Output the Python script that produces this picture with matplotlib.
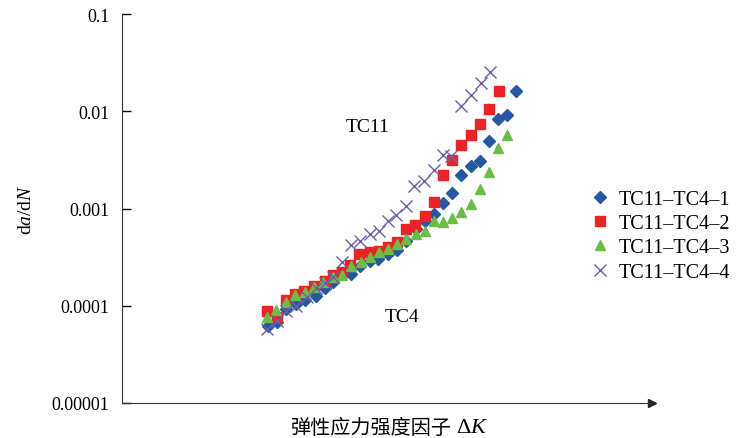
import matplotlib
matplotlib.use("Agg")
import matplotlib.pyplot as plt

plt.rcParams['font.family'] = ['Liberation Serif', 'Noto Sans CJK SC']
plt.rcParams['mathtext.fontset'] = 'custom'
plt.rcParams['mathtext.rm'] = 'Liberation Serif'
plt.rcParams['mathtext.it'] = 'Liberation Serif:italic'

# data (x axis has no scale, arbitrary units)
x1 = [27.6, 29.3, 31.0, 32.9, 34.6, 36.5, 38.2, 39.8, 43.2, 44.9, 46.8, 48.3, 50.2,
      51.9, 53.6, 55.5, 57.1, 58.8, 60.5, 62.2, 63.9, 65.8, 67.5, 69.2, 70.9, 72.7, 74.4]
y1 = [6.2e-5, 6.8e-5, 9.3e-5, 1.05e-4, 1.15e-4, 1.27e-4, 1.50e-4, 1.73e-4, 2.14e-4, 2.58e-4,
      2.91e-4, 3.05e-4, 3.44e-4, 3.78e-4, 4.68e-4, 6.22e-4, 7.35e-4, 8.88e-4, 1.15e-3,
      1.46e-3, 2.19e-3, 2.77e-3, 3.05e-3, 4.91e-3, 8.28e-3, 9.10e-3, 1.64e-2]

x2 = [27.4, 29.3, 31.0, 32.7, 34.4, 36.3, 38.2, 39.8, 41.4, 43.0, 44.7, 46.8, 48.5,
      50.2, 51.9, 53.6, 55.3, 57.1, 58.8, 60.5, 62.2, 63.9, 65.8, 67.5, 69.2, 71.1]
y2 = [8.7e-5, 7.7e-5, 1.15e-4, 1.33e-4, 1.43e-4, 1.61e-4, 1.81e-4, 2.09e-4, 2.24e-4,
      2.65e-4, 3.36e-4, 3.60e-4, 3.69e-4, 4.06e-4, 4.57e-4, 6.08e-4, 6.84e-4, 8.47e-4,
      1.18e-3, 2.24e-3, 3.13e-3, 4.46e-3, 5.66e-3, 7.35e-3, 1.05e-2, 1.61e-2]

x3 = [27.4, 29.1, 31.0, 32.7, 34.6, 36.3, 38.0, 39.8, 41.5, 43.2, 45.1, 46.8, 48.5, 50.2,
      51.9, 53.6, 55.5, 57.1, 58.8, 60.5, 62.2, 63.9, 65.8, 67.5, 69.2, 70.9, 72.7]
y3 = [7.7e-5, 9.1e-5, 1.10e-4, 1.30e-4, 1.39e-4, 1.57e-4, 1.77e-4, 1.95e-4, 2.09e-4,
      2.58e-4, 2.84e-4, 3.20e-4, 3.60e-4, 3.87e-4, 4.26e-4, 4.91e-4, 5.52e-4, 5.80e-4,
      7.35e-4, 7.18e-4, 8.07e-4, 9.31e-4, 1.10e-3, 1.57e-3, 2.35e-3, 4.16e-3, 5.66e-3]

x4 = [27.4, 29.3, 31.0, 32.9, 34.8, 36.5, 38.2, 39.8, 41.4, 43.2, 44.9, 46.8, 48.5,
      50.2, 51.7, 53.6, 55.1, 57.0, 58.8, 60.5, 62.0, 63.9, 65.8, 67.7, 69.4]
y4 = [5.8e-5, 7.0e-5, 8.7e-5, 1.0e-4, 1.24e-4, 1.50e-4, 1.69e-4, 1.99e-4, 2.84e-4,
      4.16e-4, 4.68e-4, 5.52e-4, 5.93e-4, 7.35e-4, 8.67e-4, 1.07e-3, 1.69e-3, 1.90e-3,
      2.47e-3, 3.52e-3, 3.45e-3, 1.15e-2, 1.46e-2, 1.95e-2, 2.52e-2]

labels = ['TC11\u2013TC4\u20131', 'TC11\u2013TC4\u20132', 'TC11\u2013TC4\u20133', 'TC11\u2013TC4\u20134']
yticks = [1e-5, 1e-4, 1e-3, 1e-2, 1e-1]
yticklabels = ['0.00001', '0.0001', '0.001', '0.01', '0.1']

fig = plt.figure(figsize=(7.37, 4.39), dpi=100)
ax = fig.add_axes([0.1655, 0.0805, 0.7195, 0.8845])

ax.plot(x1, y1, 'D', color='#2457a6', markersize=6.5, ls='none', label=labels[0])
ax.plot(x2, y2, 's', color='#ed2224', markersize=6.5, ls='none', label=labels[1])
ax.plot(x3, y3, '^', color='#6cbd45', markersize=7.5, ls='none', label=labels[2])
ax.plot(x4, y4, 'x', color='#6a5fae', markersize=8, mew=1.0, ls='none', label=labels[3])

ax.set_yscale('log')
ax.set_ylim(1e-5, 1e-1)
ax.set_xlim(0, 100)
ax.set_yticks(yticks)
ax.set_yticklabels(yticklabels, fontsize=13)
ax.minorticks_off()
ax.set_xticks([])
ax.tick_params(axis='y', direction='in', length=6.5, width=1, pad=9)
for s in ['left', 'bottom']:
    ax.spines[s].set_color('#333333')

ax.spines['top'].set_visible(False)
ax.spines['right'].set_visible(False)
ax.plot(1, 0, marker='>', color='#222222', markersize=6, transform=ax.transAxes, clip_on=False)

ax.set_ylabel(r'$\mathrm{d}a/\mathrm{d}N$', fontsize=14, labelpad=12)
fig.text(0.613, 0.025, '弹性应力强度因子', fontsize=14.5, ha='right', va='center',
         family=['Noto Sans CJK SC'])
fig.text(0.619, 0.025, r'$\Delta K$', fontsize=16, ha='left', va='center')

fig.text(368 / 737, 1 - 127 / 439, 'TC11', fontsize=14, ha='center', va='center')
fig.text(402 / 737, 1 - 318 / 439, 'TC4', fontsize=14, ha='center', va='center')

ax.legend(loc='upper left', bbox_to_anchor=(580 / 737, 1 - 183 / 439),
          bbox_transform=fig.transFigure, frameon=False, fontsize=14.5,
          handletextpad=0.3, labelspacing=0.25, handlelength=1.2, borderaxespad=0)

fig.savefig('out.png', dpi=100)
